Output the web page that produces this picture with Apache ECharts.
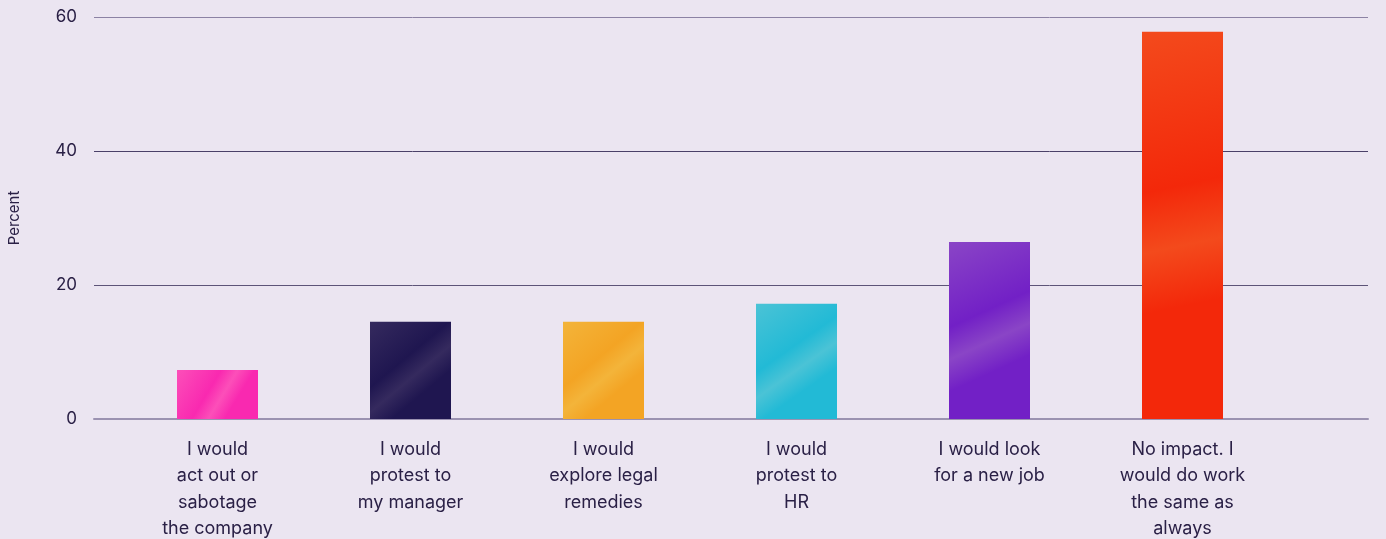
<!DOCTYPE html>
<html>
<head>
<meta charset="utf-8">
<script src="https://cdn.jsdelivr.net/npm/echarts@6/dist/echarts.min.js"></script>
<style>
  html, body { margin: 0; padding: 0; background: #ebe5f1; }
  #chart { width: 1386px; height: 539px; }
</style>
</head>
<body>
<div id="chart"></div>
<script>
// answers (line breaks as in the original labels)
var categories = [
    'I would\nact out or\nsabotage\nthe company',
    'I would\nprotest to\nmy manager',
    'I would\nexplore legal\nremedies',
    'I would\nprotest to\nHR',
    'I would look\nfor a new job',
    'No impact. I\nwould do work\nthe same as\nalways'
];
var percents = [7.3, 14.5, 14.5, 17.2, 26.4, 57.8];
var barColors = [
    ['#fc4fb9', '#f929b0'],
    ['#352a5e', '#1f1650'],
    ['#f3b43a', '#f3a424'],
    ['#4bc3d6', '#22bad6'],
    ['#8a45c6', '#7220c6'],
    ['#f34a1c', '#f3280a']
];
var yTicks = [0, 20, 40, 60];

var textColor = '#2a2046';
var dom = document.getElementById('chart');
var myChart = echarts.init(dom);

var barData = [];
for (var i = 0; i < percents.length; i++) {
    barData.push({
        value: percents[i],
        itemStyle: {
            color: new echarts.graphic.LinearGradient(0, 0, 1, 1, [
                {offset: 0, color: barColors[i][0]},
                {offset: 0.4, color: barColors[i][1]},
                {offset: 0.55, color: barColors[i][0]},
                {offset: 0.7, color: barColors[i][1]},
                {offset: 1, color: barColors[i][1]}
            ])
        }
    });
}

var option = {
    backgroundColor: '#ebe5f1',
    animation: false,
    grid: [
        // grid for the horizontal lines + y labels
        {left: 94, right: 18, top: 17, bottom: 120, outerBoundsMode: 'none'},
        // grid for the bars
        {left: 121, right: 107, top: 17, bottom: 120, outerBoundsMode: 'none'}
    ],
    xAxis: [
        {
            gridIndex: 0,
            type: 'category',
            data: [''],
            axisLine: {show: true, lineStyle: {color: '#9b92b1', width: 2}},
            axisTick: {show: false},
            axisLabel: {show: false}
        },
        {
            gridIndex: 1,
            type: 'category',
            data: categories,
            axisLine: {show: false},
            axisTick: {show: false},
            axisLabel: {
                interval: 0,
                color: textColor,
                fontFamily: 'Inter',
                fontSize: 18,
                lineHeight: 26.5,
                margin: 17,
                align: 'center'
            }
        }
    ],
    yAxis: [
        {
            gridIndex: 0,
            type: 'value',
            min: yTicks[0],
            max: yTicks[yTicks.length - 1],
            interval: 20,
            name: 'Percent',
            nameLocation: 'middle',
            nameGap: 72,
            nameTextStyle: {color: textColor, fontFamily: 'Inter', fontSize: 15},
            axisLine: {show: false},
            axisTick: {show: false},
            axisLabel: {color: textColor, fontFamily: 'Inter', fontSize: 17, margin: 17},
            splitLine: {
                show: true,
                lineStyle: {
                    color: ['#9b92b1', '#5d5478', '#4a4068', '#8c82a4'],
                    width: 1
                }
            }
        },
        {
            gridIndex: 1,
            type: 'value',
            min: yTicks[0],
            max: yTicks[yTicks.length - 1],
            show: false
        }
    ],
    series: [{
        type: 'bar',
        xAxisIndex: 1,
        yAxisIndex: 1,
        barWidth: 81,
        data: barData
    }]
};
myChart.setOption(option);
</script>
</body>
</html>
